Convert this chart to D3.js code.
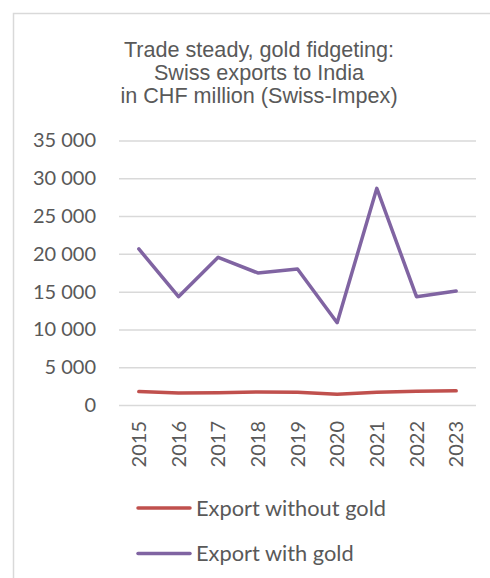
<!DOCTYPE html>
<html lang="en">
<head>
    <meta charset="UTF-8">
    <title>Swiss exports to India</title>
    <script src="https://d3js.org/d3.v7.min.js"></script>
    <style>
        body { margin: 0; background: #fff; }
        text { fill: #595959; }
    </style>
</head>
<body>
    <div id="chart"></div>

    <script>
        // Data (CHF million)
        const years = ["2015", "2016", "2017", "2018", "2019", "2020", "2021", "2022", "2023"];
        const withoutGold = [1770, 1600, 1630, 1720, 1690, 1410, 1680, 1830, 1870];
        const withGold = [20650, 14330, 19550, 17470, 18000, 10890, 28670, 14330, 15090];
        const yTicks = [0, 5000, 10000, 15000, 20000, 25000, 30000, 35000];
        const titleLines = ["Trade steady, gold fidgeting:", "Swiss exports to India", "in CHF million (Swiss-Impex)"];

        const series = [
            {name: "Export without gold", values: withoutGold, color: "#c0504d"},
            {name: "Export with gold", values: withGold, color: "#8064a2"}
        ];

        const W = 490, H = 578;
        const plot = {left: 119, right: 476, top: 140.5, bottom: 405};

        const svg = d3.select("#chart")
            .append("svg")
            .attr("width", W)
            .attr("height", H);

        // Chart border
        svg.append("rect")
            .attr("x", 13.5)
            .attr("y", 13.5)
            .attr("width", 600)
            .attr("height", 700)
            .attr("fill", "none")
            .attr("stroke", "#d9d9d9")
            .attr("stroke-width", 1.5);

        // Title
        svg.append("text")
            .attr("x", 259)
            .attr("y", 56.5)
            .attr("text-anchor", "middle")
            .style("font-family", "'Liberation Sans', Arial, sans-serif")
            .style("font-size", "21.6px")
            .selectAll("tspan")
            .data(titleLines)
            .enter().append("tspan")
            .attr("x", 259)
            .attr("dy", (d, i) => i === 0 ? 0 : 23.2)
            .text(d => d);

        const x = d3.scaleBand()
            .domain(years)
            .range([plot.left, plot.right]);

        const y = d3.scaleLinear()
            .domain([0, 35000])
            .range([plot.bottom, plot.top]);

        const fmt = v => d3.format(",")(v).replace(/,/g, " ");

        // Y axis with gridlines
        const yAxis = svg.append("g")
            .attr("transform", `translate(${plot.left},0)`)
            .call(d3.axisLeft(y)
                .tickValues(yTicks)
                .tickFormat(fmt)
                .tickSize(-(plot.right - plot.left))
                .tickPadding(23));
        yAxis.select(".domain").remove();
        yAxis.selectAll("line")
            .attr("stroke", "#d9d9d9")
            .attr("stroke-width", 1.5);
        yAxis.selectAll("text")
            .style("font-family", "Lato, Carlito, Calibri, sans-serif")
            .style("font-size", "20px")
            .attr("fill", "#595959");

        // X axis labels (rotated)
        const xAxis = svg.append("g")
            .attr("transform", `translate(0,${plot.bottom})`)
            .call(d3.axisBottom(x).tickSize(0).tickPadding(0));
        xAxis.select(".domain").remove();
        xAxis.selectAll("text")
            .style("font-family", "Lato, Carlito, Calibri, sans-serif")
            .style("font-size", "20px")
            .attr("fill", "#595959")
            .attr("transform", "rotate(-90)")
            .attr("text-anchor", "end")
            .attr("x", -16)
            .attr("y", 0)
            .attr("dy", "0.35em");

        // Lines
        const line = d3.line()
            .x((d, i) => x(years[i]) + x.bandwidth() / 2)
            .y(d => y(d));

        svg.selectAll(".series")
            .data(series)
            .enter().append("path")
            .attr("class", "series")
            .attr("d", d => line(d.values))
            .attr("fill", "none")
            .attr("stroke", d => d.color)
            .attr("stroke-width", 3.5)
            .attr("stroke-linejoin", "round")
            .attr("stroke-linecap", "round");

        // Legend
        const legend = svg.selectAll(".legend")
            .data(series)
            .enter().append("g")
            .attr("class", "legend")
            .attr("transform", (d, i) => `translate(138,${508 + i * 45.5})`);

        legend.append("line")
            .attr("x1", 0)
            .attr("x2", 52)
            .attr("stroke", d => d.color)
            .attr("stroke-width", 3.5)
            .attr("stroke-linecap", "round");

        legend.append("text")
            .attr("x", 58)
            .attr("dy", "0.35em")
            .style("font-family", "Lato, Carlito, Calibri, sans-serif")
            .style("font-size", "21.8px")
            .text(d => d.name);
    </script>
</body>
</html>
